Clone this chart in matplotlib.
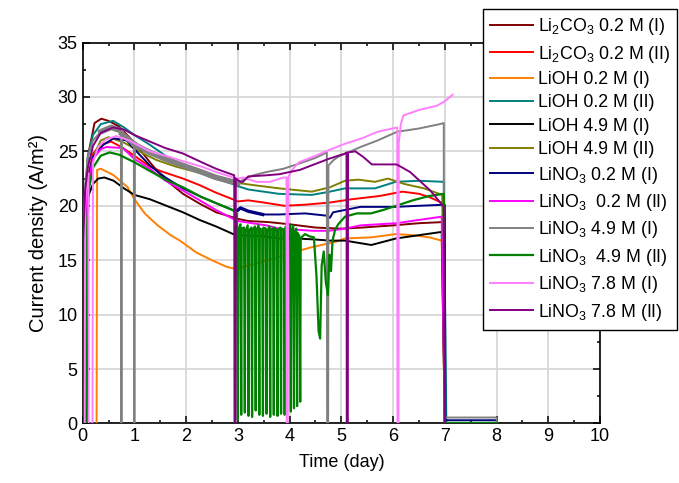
import numpy as np
import matplotlib
matplotlib.use("Agg")
import matplotlib.pyplot as plt
from matplotlib.ticker import MultipleLocator

plt.rcParams['font.family'] = ['Liberation Sans', 'DejaVu Sans']
plt.rcParams['mathtext.fontset'] = 'custom'
plt.rcParams['mathtext.rm'] = 'Liberation Sans'
plt.rcParams['mathtext.it'] = 'Liberation Sans:italic'
plt.rcParams['mathtext.bf'] = 'Liberation Sans:bold'

labels = [r'Li$_2$CO$_3$ 0.2 M (I)', r'Li$_2$CO$_3$ 0.2 M (II)', 'LiOH 0.2 M (I)',
          'LiOH 0.2 M (II)', 'LiOH 4.9 M (I)', 'LiOH 4.9 M (II)',
          r'LiNO$_3$ 0.2 M (I)', r'LiNO$_3$  0.2 M (II)', r'LiNO$_3$ 4.9 M (I)',
          r'LiNO$_3$  4.9 M (II)', r'LiNO$_3$ 7.8 M (I)', r'LiNO$_3$ 7.8 M (II)']
colors = ['#800000', '#ff0000', '#ff8000', '#008080', '#000000', '#808000',
          '#000080', '#ff00ff', '#808080', '#008000', '#ff80ff', '#800080']

# Li2CO3 0.2 M (I)
li2co3_1_t = [0.02, 0.04, 0.1, 0.23, 0.36, 0.5, 0.7, 1.0, 1.3, 1.55, 1.94, 2.26, 2.58, 2.9, 3.0,
              3.2, 3.6, 4.0, 4.5, 5.0, 5.4, 6.0, 6.5, 6.95, 7.0]
li2co3_1_j = [0, 19.0, 24.5, 27.6, 28.0, 27.8, 27.3, 25.8, 24.0, 22.6, 21.1, 20.2, 19.4, 18.95, 18.8,
              18.6, 18.5, 18.3, 18.0, 17.9, 18.0, 18.2, 18.4, 18.5, 0]
# Li2CO3 0.2 M (II)
li2co3_2_t = [0.03, 0.05, 0.1, 0.2, 0.35, 0.55, 0.75, 1.0, 1.3, 1.5, 1.94, 2.26, 2.58, 2.9, 3.0,
              3.2, 3.5, 3.9, 4.3, 4.78, 5.2, 5.74, 6.18, 6.5, 6.7, 6.98, 7.0]
li2co3_2_j = [0, 18.0, 22.5, 24.8, 25.6, 25.9, 25.4, 24.6, 23.6, 23.2, 22.5, 21.9, 21.2, 20.6, 20.4,
              20.5, 20.3, 20.0, 20.1, 20.3, 20.6, 20.9, 21.3, 21.1, 20.8, 20.2, 0]
# LiOH 0.2 M (I)
lioh02_1_t = [0.27, 0.28, 0.35, 0.48, 0.6, 0.87, 1.0, 1.2, 1.45, 1.7, 1.88, 2.2, 2.5, 2.78, 2.95,
              3.2, 3.5, 3.79, 4.13, 4.43, 4.9, 5.07, 5.58, 6.05, 6.38, 6.7, 6.94, 7.0]
lioh02_1_j = [0, 23.3, 23.4, 23.1, 22.8, 21.7, 20.6, 19.3, 18.2, 17.3, 16.8, 15.7, 15.0, 14.4, 14.2,
              14.5, 14.9, 15.3, 15.8, 16.2, 16.7, 17.0, 17.1, 17.4, 17.3, 17.1, 16.8, 0]
# LiOH 0.2 M (II)
lioh02_2_t = [0.02, 0.04, 0.1, 0.2, 0.35, 0.59, 0.8, 1.0, 1.3, 1.6, 2.0, 2.5, 2.9, 3.0, 3.2,
              3.79, 4.43, 4.78, 5.07, 5.65, 6.05, 6.5, 6.98, 7.03]
lioh02_2_j = [0, 20.0, 24.5, 26.5, 27.5, 27.8, 27.2, 26.5, 25.6, 24.6, 23.6, 22.6, 22.0, 21.8, 21.5,
              21.1, 21.0, 21.3, 21.6, 21.6, 22.2, 22.3, 22.2, 0]
# LiOH 4.9 M (I)
lioh49_1_t = [0.08, 0.1, 0.2, 0.3, 0.42, 0.6, 0.8, 1.0, 1.3, 1.62, 1.94, 2.26, 2.58, 2.91, 3.0,
              3.5, 3.79, 4.13, 4.5, 4.78, 5.07, 5.58, 6.06, 6.5, 6.94, 7.0]
lioh49_1_j = [0, 20.8, 22.0, 22.5, 22.6, 22.3, 21.6, 21.0, 20.6, 20.0, 19.4, 18.7, 18.1, 17.4, 17.3,
              17.2, 17.0, 17.0, 16.9, 16.8, 16.8, 16.4, 17.0, 17.3, 17.6, 0]
# LiOH 4.9 M (II)
lioh49_2_t = [0.02, 0.05, 0.1, 0.2, 0.35, 0.5, 0.8, 1.17, 1.43, 1.8, 2.2, 2.6, 2.9, 3.0, 3.3,
              3.8, 4.43, 4.78, 5.07, 5.33, 5.65, 5.9, 6.22, 6.6, 6.95, 7.0]
lioh49_2_j = [0, 17.0, 21.5, 24.5, 26.0, 26.3, 25.8, 24.8, 24.2, 23.6, 23.1, 22.6, 22.3, 22.1, 21.9,
              21.6, 21.3, 21.7, 22.3, 22.4, 22.2, 22.5, 22.0, 21.6, 21.0, 0]
# LiNO3 0.2 M (I)
lino3_02_1_t = [0.03, 0.05, 0.1, 0.2, 0.4, 0.6, 0.85, 1.0, 1.3, 1.6, 1.94, 2.3, 2.6, 2.91, 3.0,
                3.05, 3.2, 3.48, 3.79, 4.3, 4.7, 4.78, 4.84, 5.37, 6.05, 6.5, 7.0, 7.01, 8.0, 8.01]
lino3_02_1_j = [0, 19.0, 22.5, 24.5, 25.6, 26.2, 26.0, 25.2, 23.7, 22.6, 21.6, 20.8, 20.2, 19.6, 19.6,
                19.8, 19.5, 19.2, 19.2, 19.3, 19.1, 18.9, 19.4, 19.9, 19.9, 20.0, 20.1, 0.3, 0.3, 0]
# LiNO3 0.2 M (II)
lino3_02_2_t = [0.02, 0.04, 0.1, 0.2, 0.35, 0.46, 0.78, 1.0, 1.3, 1.6, 1.94, 2.3, 2.58, 2.91, 3.0,
                3.55, 3.79, 4.46, 4.75, 5.07, 5.37, 6.06, 6.5, 6.94, 7.0]
lino3_02_2_j = [0, 18.0, 22.0, 24.3, 25.2, 25.4, 25.3, 24.3, 23.4, 22.3, 21.4, 20.4, 19.6, 18.8, 18.6,
                18.2, 17.9, 17.7, 17.7, 17.9, 18.2, 18.4, 18.7, 19.0, 0]
# LiNO3 4.9 M (I)
lino3_49_1_t = [0.0, 0.01, 0.02, 0.05, 0.1, 0.2, 0.35, 0.55, 0.74, 0.745, 0.755, 0.76, 0.99, 0.995,
                1.005, 1.01, 1.3, 1.6, 1.94, 2.3, 2.58, 2.9, 3.0, 3.1, 3.3, 3.55, 3.88, 4.2, 4.5,
                4.72, 4.725, 4.745, 4.75, 4.85, 4.94, 5.37, 5.7, 6.08, 6.5, 6.9, 6.98, 6.985, 8.0, 8.005]
lino3_49_1_j = [0, 3.0, 18.0, 22.0, 24.5, 26.0, 26.8, 27.2, 26.9, 0, 0, 26.6, 25.7, 0,
                0, 25.6, 24.9, 24.3, 23.7, 23.1, 22.6, 22.2, 22.1, 22.4, 22.8, 23.1, 23.4, 23.9, 24.4,
                24.9, 0, 0, 23.7, 24.2, 24.5, 25.4, 26.0, 26.8, 27.1, 27.5, 27.6, 0.55, 0.55, 0]
# LiNO3 4.9 M (II)
lino3_49_2_t = [0.06, 0.08, 0.12, 0.2, 0.35, 0.52, 0.7, 1.0, 1.3, 1.6, 1.94, 2.3, 2.6, 2.9, 2.98,
                3.0, 3.01, 3.05, 3.065, 3.075, 3.12, 3.135, 3.145, 3.19, 3.205, 3.215, 3.26, 3.275,
                3.285, 3.33, 3.345, 3.355, 3.4, 3.415, 3.425, 3.47, 3.485, 3.495, 3.54, 3.555,
                3.565, 3.61, 3.625, 3.635, 3.68, 3.695, 3.705, 3.75, 3.765, 3.775, 3.82, 3.835,
                3.845, 3.89, 3.905, 3.915, 3.97, 4.01, 4.025, 4.035, 4.07, 4.085, 4.095, 4.13,
                4.145, 4.155, 4.19, 4.205, 4.215, 4.25, 4.3,
                4.38, 4.47, 4.52, 4.56, 4.59, 4.62, 4.66, 4.7, 4.74, 4.77, 4.8, 4.83, 4.88, 4.94,
                5.07, 5.3, 5.57, 5.8, 6.06, 6.38, 6.7, 6.98, 7.0, 8.0, 8.01]
lino3_49_2_j = [0, 17.0, 21.5, 23.5, 24.6, 24.9, 24.7, 24.0, 23.2, 22.4, 21.7, 20.8, 20.2, 19.6, 19.3,
                0.3, 17.8, 18.3, 0.8, 17.9, 18.0, 1.0, 17.6, 18.2, 0.7, 17.7, 18.0, 0.6,
                17.8, 18.1, 1.2, 17.7, 18.2, 0.8, 17.9, 17.8, 0.7, 18.0, 17.9, 0.9,
                17.6, 18.1, 0.6, 17.8, 17.9, 0.8, 18.0, 17.7, 0.7, 17.8, 18.0, 0.9,
                17.9, 17.8, 0.8, 18.0, 18.3, 18.2, 1.1, 17.6, 18.2, 1.4, 17.4, 17.9,
                1.6, 17.5, 17.2, 2.0, 17.0, 17.2, 17.4,
                17.2, 17.1, 13.5, 8.5, 7.8, 14.5, 15.8, 13.0, 11.8, 15.5, 14.0, 16.8, 17.8, 18.3,
                19.0, 19.3, 19.3, 19.6, 20.0, 20.5, 20.9, 21.1, 0.05, 0.05, 0]
# LiNO3 7.8 M (I)
lino3_78_1_t = [0.04, 0.05, 0.08, 0.11, 0.115, 0.19, 0.2, 0.3, 0.45, 0.65, 0.9, 1.3, 1.6, 1.94, 2.3,
                2.58, 2.91, 3.0, 3.1, 3.36, 3.62, 3.88, 3.94, 3.945, 3.965, 3.97, 4.05, 4.18, 4.4,
                4.75, 5.07, 5.4, 5.7, 6.08, 6.085, 6.105, 6.11, 6.15, 6.2, 6.5, 6.85, 7.0, 7.1, 7.15]
lino3_78_1_j = [0, 20.0, 22.5, 23.0, 0, 0, 24.0, 25.4, 26.1, 26.4, 26.0, 25.0, 24.6, 24.1, 23.6,
                23.1, 22.6, 22.5, 22.6, 22.2, 22.2, 22.6, 22.6, 0, 0, 22.6, 23.3, 24.0, 24.4,
                25.1, 25.7, 26.2, 26.8, 27.2, 0, 0, 25.8, 27.5, 28.3, 28.8, 29.2, 29.6, 30.0, 30.2]
# LiNO3 7.8 M (II)
lino3_78_2_t = [0.0, 0.01, 0.05, 0.1, 0.2, 0.35, 0.59, 0.8, 1.0, 1.3, 1.6, 1.94, 2.3, 2.58, 2.93,
                2.935, 2.955, 2.96, 3.05, 3.1, 3.2, 3.55, 3.8, 4.2, 4.75, 5.07, 5.1, 5.105, 5.125,
                5.13, 5.27, 5.42, 5.59, 6.07, 6.33, 6.72, 6.98, 7.0]
lino3_78_2_j = [0, 17.0, 21.5, 23.5, 25.5, 26.7, 27.2, 27.0, 26.5, 25.9, 25.3, 24.8, 24.0, 23.4, 22.8,
                0, 0, 22.5, 22.2, 22.2, 22.7, 22.8, 22.9, 23.3, 24.3, 24.8, 24.9, 0, 0,
                24.9, 25.0, 24.5, 23.8, 23.8, 23.1, 21.4, 19.9, 0]

series_t = [li2co3_1_t, li2co3_2_t, lioh02_1_t, lioh02_2_t, lioh49_1_t, lioh49_2_t,
            lino3_02_1_t, lino3_02_2_t, lino3_49_1_t, lino3_49_2_t, lino3_78_1_t, lino3_78_2_t]
series_j = [li2co3_1_j, li2co3_2_j, lioh02_1_j, lioh02_2_j, lioh49_1_j, lioh49_2_j,
            lino3_02_1_j, lino3_02_2_j, lino3_49_1_j, lino3_49_2_j, lino3_78_1_j, lino3_78_2_j]

fig = plt.figure(figsize=(6.79, 4.83), dpi=100)
ax = fig.add_axes([0.1217, 0.1232, 0.7620, 0.7888])

handles = []
for i, (t, j) in enumerate(zip(series_t, series_j)):
    t = np.asarray(t, float)
    j = np.asarray(j, float)
    lw = 1.6 if i == 9 else 1.4
    h, = ax.plot(t, j, color=colors[i], lw=lw, label=labels[i], zorder=3 + i * 0.01)
    handles.append(h)
    if i == 8:  # noisy grey band
        m = (t >= 0.3) & (t <= 3.0) & (j > 5)
        ax.plot(t, np.where(m, j, np.nan), color=colors[i], lw=4.0, zorder=3 + i * 0.01)
    if i == 6:  # noisy navy band after restart
        m = (t >= 3.0) & (t <= 3.5)
        ax.plot(t, np.where(m, j, np.nan), color=colors[i], lw=2.4, zorder=3 + i * 0.01)

ax.set_xlim(0, 10)
ax.set_ylim(0, 35)
ax.xaxis.set_major_locator(MultipleLocator(1))
ax.xaxis.set_minor_locator(MultipleLocator(0.5))
ax.yaxis.set_major_locator(MultipleLocator(5))
ax.yaxis.set_minor_locator(MultipleLocator(2.5))
ax.grid(True, which='major', color='#d4d4d4', lw=1.2, zorder=0)
ax.set_axisbelow(True)
ax.tick_params(which='both', direction='in', top=True, right=True, width=1.1, labelsize=13)
ax.tick_params(which='major', length=5)
ax.tick_params(which='minor', length=2.5)
for s in ax.spines.values():
    s.set_linewidth(1.2)
ax.set_xlabel('Time (day)', fontsize=13, labelpad=6)
ax.set_ylabel('Current density (A/m²)', fontsize=14.5, labelpad=7)

leg = ax.legend(handles=handles, loc='upper left', bbox_to_anchor=(483 / 679, 1 - 9 / 483),
                bbox_transform=fig.transFigure, fontsize=12.8, frameon=True, fancybox=False,
                edgecolor='black', framealpha=1, handlelength=2.4, handletextpad=0.3,
                labelspacing=0.36, borderpad=0.4, borderaxespad=0)
leg.get_frame().set_linewidth(1.0)
leg.set_zorder(10)

fig.savefig('out.png', dpi=100)
